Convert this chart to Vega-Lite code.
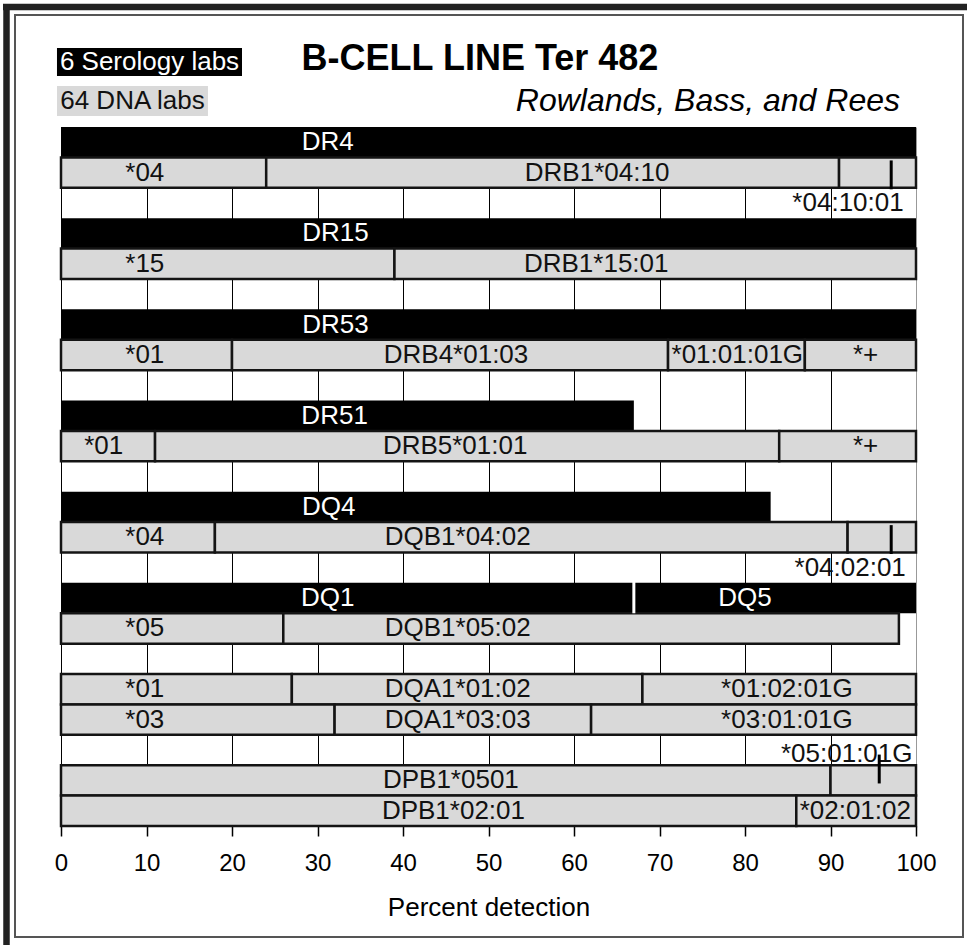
{
  "$schema": "https://vega.github.io/schema/vega-lite/v6.json",
  "width": 855,
  "height": 699,
  "autosize": {"type": "none"},
  "padding": {"left": 61, "top": 127, "right": 53, "bottom": 119},
  "background": "white",
  "config": {"view": {"stroke": null}, "font": "Liberation Sans"},
  "layer": [
    {
      "data": {"values": [
        {"edge": "top", "from": -6.784, "to": 105.965, "top": -3.949, "bottom": -3.949},
        {"edge": "left", "from": -6.374, "to": -6.374, "top": -4.047, "bottom": 26.917}
      ]},
      "mark": {"type": "rule", "color": "#222222", "strokeWidth": 6.5},
      "encoding": {
        "x": {"field": "from", "type": "quantitative", "scale": {"domain": [0, 100], "nice": false, "zero": false}, "title": "Percent detection"},
        "x2": {"field": "to"},
        "y": {"field": "top", "type": "quantitative", "scale": {"domain": [0, 23], "nice": false, "zero": false, "reverse": true}, "axis": null},
        "y2": {"field": "bottom"}
      }
    },
    {
      "data": {"values": [{"from": -5.38, "to": 105.497, "top": -3.685, "bottom": 26.653}]},
      "mark": {"type": "rect", "filled": false, "stroke": "#555555", "strokeWidth": 2},
      "encoding": {
        "x": {"field": "from", "type": "quantitative", "scale": {"domain": [0, 100], "nice": false, "zero": false}, "title": "Percent detection"},
        "x2": {"field": "to"},
        "y": {"field": "top", "type": "quantitative", "scale": {"domain": [0, 23], "nice": false, "zero": false, "reverse": true}, "axis": null},
        "y2": {"field": "bottom"}
      }
    },
    {
      "data": {"values": [
        {"name": "DR4", "from": 0, "to": 100, "top": 0, "bottom": 1},
        {"name": "DR15", "from": 0, "to": 100, "top": 3, "bottom": 4},
        {"name": "DR53", "from": 0, "to": 100, "top": 6, "bottom": 7},
        {"name": "DR51", "from": 0, "to": 67, "top": 9, "bottom": 10},
        {"name": "DQ4", "from": 0, "to": 83, "top": 12, "bottom": 13},
        {"name": "DQ1", "from": 0, "to": 67, "top": 15, "bottom": 16},
        {"name": "DQ5", "from": 67, "to": 100, "top": 15, "bottom": 16}
      ]},
      "mark": {"type": "rect", "color": "black"},
      "encoding": {
        "x": {"field": "from", "type": "quantitative", "scale": {"domain": [0, 100], "nice": false, "zero": false}, "title": "Percent detection",
          "axis": {"values": [0, 10, 20, 30, 40, 50, 60, 70, 80, 90, 100], "domain": false, "tickSize": 10, "tickColor": "black", "tickWidth": 1.5,
            "labelFontSize": 24, "labelFont": "Liberation Sans", "labelColor": "black", "labelPadding": 15, "labelFlush": false, "labelOverlap": false, "labelBound": false,
            "titleFontSize": 26, "titleFont": "Liberation Sans", "titleFontWeight": "normal", "titleColor": "black", "titlePadding": 19,
            "grid": true, "gridColor": {"condition": {"test": "datum.value === 100", "value": "#999999"}, "value": "black"}, "gridWidth": 1, "gridOpacity": 1}},
        "x2": {"field": "to"},
        "y": {"field": "top", "type": "quantitative", "scale": {"domain": [0, 23], "nice": false, "zero": false, "reverse": true}, "axis": null},
        "y2": {"field": "bottom"}
      }
    },
    {
      "data": {"values": [
        {"name": "*04", "from": 0, "to": 24, "top": 1, "bottom": 2},
        {"name": "DRB1*04:10", "from": 24, "to": 91, "top": 1, "bottom": 2},
        {"name": "*04:10:01", "from": 91, "to": 100, "top": 1, "bottom": 2},
        {"name": "*15", "from": 0, "to": 39, "top": 4, "bottom": 5},
        {"name": "DRB1*15:01", "from": 39, "to": 100, "top": 4, "bottom": 5},
        {"name": "*01", "from": 0, "to": 20, "top": 7, "bottom": 8},
        {"name": "DRB4*01:03", "from": 20, "to": 71, "top": 7, "bottom": 8},
        {"name": "*01:01:01G", "from": 71, "to": 87, "top": 7, "bottom": 8},
        {"name": "*+", "from": 87, "to": 100, "top": 7, "bottom": 8},
        {"name": "*01", "from": 0, "to": 11, "top": 10, "bottom": 11},
        {"name": "DRB5*01:01", "from": 11, "to": 84, "top": 10, "bottom": 11},
        {"name": "*+", "from": 84, "to": 100, "top": 10, "bottom": 11},
        {"name": "*04", "from": 0, "to": 18, "top": 13, "bottom": 14},
        {"name": "DQB1*04:02", "from": 18, "to": 92, "top": 13, "bottom": 14},
        {"name": "*04:02:01", "from": 92, "to": 100, "top": 13, "bottom": 14},
        {"name": "*05", "from": 0, "to": 26, "top": 16, "bottom": 17},
        {"name": "DQB1*05:02", "from": 26, "to": 98, "top": 16, "bottom": 17},
        {"name": "*01", "from": 0, "to": 27, "top": 18, "bottom": 19},
        {"name": "DQA1*01:02", "from": 27, "to": 68, "top": 18, "bottom": 19},
        {"name": "*01:02:01G", "from": 68, "to": 100, "top": 18, "bottom": 19},
        {"name": "*03", "from": 0, "to": 32, "top": 19, "bottom": 20},
        {"name": "DQA1*03:03", "from": 32, "to": 62, "top": 19, "bottom": 20},
        {"name": "*03:01:01G", "from": 62, "to": 100, "top": 19, "bottom": 20},
        {"name": "DPB1*0501", "from": 0, "to": 90, "top": 21, "bottom": 22},
        {"name": "*05:01:01G", "from": 90, "to": 100, "top": 21, "bottom": 22},
        {"name": "DPB1*02:01", "from": 0, "to": 86, "top": 22, "bottom": 23},
        {"name": "*02:01:02", "from": 86, "to": 100, "top": 22, "bottom": 23}
      ]},
      "mark": {"type": "rect", "fill": "#d9d9d9", "stroke": "#141414", "strokeWidth": 2.5},
      "encoding": {
        "x": {"field": "from", "type": "quantitative", "scale": {"domain": [0, 100], "nice": false, "zero": false}, "title": "Percent detection"},
        "x2": {"field": "to"},
        "y": {"field": "top", "type": "quantitative", "scale": {"domain": [0, 23], "nice": false, "zero": false, "reverse": true}, "axis": null},
        "y2": {"field": "bottom"}
      }
    },
    {
      "data": {"values": [
        {"label": "DR4", "at": 31.2, "row": 0.5},
        {"label": "DR15", "at": 32.1, "row": 3.5},
        {"label": "DR53", "at": 32.1, "row": 6.5},
        {"label": "DR51", "at": 32.0, "row": 9.5},
        {"label": "DQ4", "at": 31.3, "row": 12.5},
        {"label": "DQ1", "at": 31.2, "row": 15.5},
        {"label": "DQ5", "at": 80.0, "row": 15.5}
      ]},
      "mark": {"type": "text", "color": "white", "fontSize": 26, "font": "Liberation Sans"},
      "encoding": {
        "x": {"field": "at", "type": "quantitative", "scale": {"domain": [0, 100], "nice": false, "zero": false}, "title": "Percent detection"},
        "y": {"field": "row", "type": "quantitative", "scale": {"domain": [0, 23], "nice": false, "zero": false, "reverse": true}, "axis": null},
        "text": {"field": "label"}
      }
    },
    {
      "data": {"values": [
        {"label": "*04", "at": 9.8, "row": 1.5},
        {"label": "DRB1*04:10", "at": 62.7, "row": 1.5},
        {"label": "*04:10:01", "at": 92.05, "row": 2.5},
        {"label": "*15", "at": 9.8, "row": 4.5},
        {"label": "DRB1*15:01", "at": 62.6, "row": 4.5},
        {"label": "*01", "at": 9.8, "row": 7.5},
        {"label": "DRB4*01:03", "at": 46.2, "row": 7.5},
        {"label": "*01:01:01G", "at": 79.1, "row": 7.5},
        {"label": "*+", "at": 94.1, "row": 7.5},
        {"label": "*01", "at": 5.0, "row": 10.5},
        {"label": "DRB5*01:01", "at": 46.1, "row": 10.5},
        {"label": "*+", "at": 94.1, "row": 10.5},
        {"label": "*04", "at": 9.8, "row": 13.5},
        {"label": "DQB1*04:02", "at": 46.4, "row": 13.5},
        {"label": "*04:02:01", "at": 92.3, "row": 14.5},
        {"label": "*05", "at": 9.8, "row": 16.5},
        {"label": "DQB1*05:02", "at": 46.4, "row": 16.5},
        {"label": "*01", "at": 9.8, "row": 18.5},
        {"label": "DQA1*01:02", "at": 46.4, "row": 18.5},
        {"label": "*01:02:01G", "at": 84.9, "row": 18.5},
        {"label": "*03", "at": 9.8, "row": 19.5},
        {"label": "DQA1*03:03", "at": 46.4, "row": 19.5},
        {"label": "*03:01:01G", "at": 84.9, "row": 19.5},
        {"label": "*05:01:01G", "at": 91.9, "row": 20.62},
        {"label": "DPB1*0501", "at": 45.6, "row": 21.5},
        {"label": "DPB1*02:01", "at": 45.9, "row": 22.5},
        {"label": "*02:01:02", "at": 92.9, "row": 22.5}
      ]},
      "mark": {"type": "text", "color": "#111111", "fontSize": 26, "font": "Liberation Sans"},
      "encoding": {
        "x": {"field": "at", "type": "quantitative", "scale": {"domain": [0, 100], "nice": false, "zero": false}, "title": "Percent detection"},
        "y": {"field": "row", "type": "quantitative", "scale": {"domain": [0, 23], "nice": false, "zero": false, "reverse": true}, "axis": null},
        "text": {"field": "label"}
      }
    },
    {
      "data": {"values": [
        {"allele": "*04:10:01", "at": 97.1, "top": 1.1, "bottom": 2.05},
        {"allele": "*04:02:01", "at": 97.1, "top": 13.1, "bottom": 14.05},
        {"allele": "*05:01:01G", "at": 95.7, "top": 20.65, "bottom": 21.6}
      ]},
      "mark": {"type": "rule", "color": "black", "strokeWidth": 3},
      "encoding": {
        "x": {"field": "at", "type": "quantitative", "scale": {"domain": [0, 100], "nice": false, "zero": false}, "title": "Percent detection"},
        "y": {"field": "top", "type": "quantitative", "scale": {"domain": [0, 23], "nice": false, "zero": false, "reverse": true}, "axis": null},
        "y2": {"field": "bottom"}
      }
    },
    {
      "data": {"values": [{"split": "DQ1/DQ5", "at": 67, "top": 14.93, "bottom": 16.0}]},
      "mark": {"type": "rule", "color": "white", "strokeWidth": 3},
      "encoding": {
        "x": {"field": "at", "type": "quantitative", "scale": {"domain": [0, 100], "nice": false, "zero": false}, "title": "Percent detection"},
        "y": {"field": "top", "type": "quantitative", "scale": {"domain": [0, 23], "nice": false, "zero": false, "reverse": true}, "axis": null},
        "y2": {"field": "bottom"}
      }
    },
    {
      "data": {"values": [
        {"lab": "6 Serology labs", "from": -0.47, "to": 21.17, "top": -2.6, "bottom": -1.68},
        {"lab": "64 DNA labs", "from": -0.47, "to": 17.19, "top": -1.35, "bottom": -0.36}
      ]},
      "mark": {"type": "rect"},
      "encoding": {
        "x": {"field": "from", "type": "quantitative", "scale": {"domain": [0, 100], "nice": false, "zero": false}, "title": "Percent detection"},
        "x2": {"field": "to"},
        "y": {"field": "top", "type": "quantitative", "scale": {"domain": [0, 23], "nice": false, "zero": false, "reverse": true}, "axis": null},
        "y2": {"field": "bottom"},
        "color": {"field": "lab", "type": "nominal", "scale": {"domain": ["6 Serology labs", "64 DNA labs"], "range": ["black", "#d9d9d9"]}, "legend": null}
      }
    },
    {
      "data": {"values": [{"lab": "6 Serology labs", "at": 10.35, "row": -2.14}]},
      "mark": {"type": "text", "fontSize": 26, "font": "Liberation Sans", "color": "white"},
      "encoding": {
        "x": {"field": "at", "type": "quantitative", "scale": {"domain": [0, 100], "nice": false, "zero": false}, "title": "Percent detection"},
        "y": {"field": "row", "type": "quantitative", "scale": {"domain": [0, 23], "nice": false, "zero": false, "reverse": true}, "axis": null},
        "text": {"field": "lab"}
      }
    },
    {
      "data": {"values": [{"lab": "64 DNA labs", "at": 8.36, "row": -0.856}]},
      "mark": {"type": "text", "fontSize": 26, "font": "Liberation Sans", "color": "#111111"},
      "encoding": {
        "x": {"field": "at", "type": "quantitative", "scale": {"domain": [0, 100], "nice": false, "zero": false}, "title": "Percent detection"},
        "y": {"field": "row", "type": "quantitative", "scale": {"domain": [0, 23], "nice": false, "zero": false, "reverse": true}, "axis": null},
        "text": {"field": "lab"}
      }
    },
    {
      "data": {"values": [{"heading": "B-CELL LINE Ter 482", "at": 49.0, "row": -2.24}]},
      "mark": {"type": "text", "fontSize": 36, "fontWeight": "bold", "font": "Liberation Sans", "color": "black"},
      "encoding": {
        "x": {"field": "at", "type": "quantitative", "scale": {"domain": [0, 100], "nice": false, "zero": false}, "title": "Percent detection"},
        "y": {"field": "row", "type": "quantitative", "scale": {"domain": [0, 23], "nice": false, "zero": false, "reverse": true}, "axis": null},
        "text": {"field": "heading"}
      }
    },
    {
      "data": {"values": [{"authors": "Rowlands, Bass, and Rees", "at": 98.13, "row": -0.84}]},
      "mark": {"type": "text", "fontSize": 32, "fontStyle": "italic", "font": "Liberation Sans", "color": "black", "align": "right"},
      "encoding": {
        "x": {"field": "at", "type": "quantitative", "scale": {"domain": [0, 100], "nice": false, "zero": false}, "title": "Percent detection"},
        "y": {"field": "row", "type": "quantitative", "scale": {"domain": [0, 23], "nice": false, "zero": false, "reverse": true}, "axis": null},
        "text": {"field": "authors"}
      }
    }
  ]
}
